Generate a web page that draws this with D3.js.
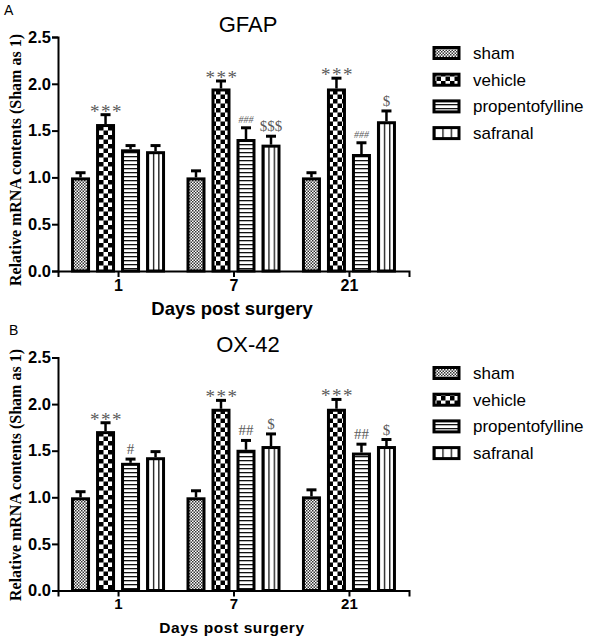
<!DOCTYPE html>
<html><head><meta charset="utf-8">
<script src="https://cdn.jsdelivr.net/npm/d3@7"></script>
<style>body{margin:0;background:#fff}svg{display:block}</style>
</head><body>
<svg id="chart" width="600" height="641"></svg>
<script>
const groups = ["1", "7", "21"];
const series = ["sham", "vehicle", "propentofylline", "safranal"];
const yTicks = [0, 0.5, 1.0, 1.5, 2.0, 2.5];

// Panel A: GFAP  (rows: groups, cols: series)
const gfapMean = [[1.00, 1.57, 1.30, 1.28], [1.00, 1.95, 1.41, 1.35], [1.00, 1.95, 1.25, 1.60]];
const gfapErr  = [[0.05, 0.10, 0.04, 0.06], [0.07, 0.08, 0.12, 0.09], [0.05, 0.11, 0.12, 0.11]];
const gfapMarks = [["", "***", "", ""], ["", "***", "###", "$$$"], ["", "***", "###", "$"]];

// Panel B: OX-42
const oxMean = [[1.00, 1.71, 1.37, 1.43], [1.00, 1.95, 1.51, 1.55], [1.01, 1.95, 1.48, 1.55]];
const oxErr  = [[0.06, 0.09, 0.04, 0.06], [0.07, 0.09, 0.10, 0.13], [0.07, 0.10, 0.09, 0.07]];
const oxMarks = [["", "***", "#", ""], ["", "***", "##", "$"], ["", "***", "##", "$"]];

const svg = d3.select("#chart");
const defs = svg.append("defs");

const p1 = defs.append("pattern").attr("id","pSham").attr("patternUnits","userSpaceOnUse").attr("width",3).attr("height",3);
p1.append("rect").attr("width",3).attr("height",3).attr("fill","#fff");
p1.append("rect").attr("width",1.5).attr("height",1.5).attr("fill","#333");
p1.append("rect").attr("x",1.5).attr("y",1.5).attr("width",1.5).attr("height",1.5).attr("fill","#333");
const p2 = defs.append("pattern").attr("id","pVeh").attr("patternUnits","userSpaceOnUse").attr("width",9).attr("height",9);
p2.append("rect").attr("width",9).attr("height",9).attr("fill","#fff");
p2.append("rect").attr("width",4.5).attr("height",4.5).attr("fill","#000");
p2.append("rect").attr("x",4.5).attr("y",4.5).attr("width",4.5).attr("height",4.5).attr("fill","#000");
const p3 = defs.append("pattern").attr("id","pProp").attr("patternUnits","userSpaceOnUse").attr("width",4).attr("height",4);
p3.append("rect").attr("width",4).attr("height",4).attr("fill","#fff");
p3.append("rect").attr("y",0).attr("width",4).attr("height",1.3).attr("fill","#111");
const p4 = defs.append("pattern").attr("id","pSaf").attr("patternUnits","objectBoundingBox").attr("width",1/3).attr("height",1);
p4.append("rect").attr("width",100).attr("height",400).attr("fill","#fff");
p4.append("rect").attr("x",0).attr("width",1.3).attr("height",400).attr("fill","#111");
const fills = ["url(#pSham)","url(#pVeh)","url(#pProp)","url(#pSaf)"];

function panel(cfg) {
  const g = svg.append("g");
  const y = d3.scaleLinear().domain([0, 2.5]).range([cfg.y0, cfg.y1]);
  const x = d3.scalePoint().domain(groups).range([58, 409]).padding(0.52);
  const xs = d3.scaleBand().domain(series).range([-50, 50]).paddingInner(0.24).paddingOuter(0.12);
  const sw = 3;

  groups.forEach((gr, gi) => {
    series.forEach((s, si) => {
      const v = cfg.mean[gi][si], e = cfg.err[gi][si];
      const bx = x(gr) + xs(s);
      const cx = bx + xs.bandwidth() / 2;
      g.append("line").attr("x1",cx).attr("x2",cx).attr("y1",y(v)).attr("y2",y(v+e))
        .attr("stroke","#000").attr("stroke-width",2.5);
      g.append("line").attr("x1",cx-5).attr("x2",cx+5).attr("y1",y(v+e)).attr("y2",y(v+e))
        .attr("stroke","#000").attr("stroke-width",3);
      g.append("rect").attr("x",bx+sw/2).attr("y",y(v)+sw/2)
        .attr("width",xs.bandwidth()-sw).attr("height",y(0)-y(v)-sw/2)
        .attr("fill",fills[si]).attr("stroke","#000").attr("stroke-width",sw);
      const m = cfg.marks[gi][si];
      if (m) {
        const small = m[0] === "#" && cfg.smallHash;
        const star = m[0] === "*";
        g.append("text").attr("x",cx + (star ? 1 : 0)).attr("y",y(v+e) - (star ? -3 : 5))
          .attr("text-anchor","middle").attr("fill","#5a5a5a")
          .attr("font-family","'Liberation Serif','Times New Roman',serif")
          .attr("font-size", small ? 10 : (star ? 19 : 15))
          .attr("letter-spacing", star ? 1.5 : 0)
          .attr("font-style", small ? "italic" : "normal")
          .text(m);
      }
    });
  });

  const ya = g.append("g").attr("transform","translate(58,0)")
    .call(d3.axisLeft(y).tickValues(yTicks).tickFormat(d3.format(".1f")).tickSizeOuter(0).tickSize(6).tickPadding(1));
  ya.select(".domain").attr("stroke","#000").attr("stroke-width",2);
  ya.selectAll(".tick line").attr("stroke","#000").attr("stroke-width",2);
  ya.selectAll(".tick text").attr("font-family","Arial,'Liberation Sans',sans-serif")
    .attr("font-weight","bold").attr("font-size",16.5).attr("fill","#000");

  const xa = g.append("g").attr("transform",`translate(0,${cfg.y0})`)
    .call(d3.axisBottom(x).tickSizeOuter(0).tickSize(6).tickPadding(cfg.xPad));
  xa.select(".domain").attr("stroke","#000").attr("stroke-width",2);
  xa.selectAll(".tick line").attr("stroke","#000").attr("stroke-width",2);
  xa.selectAll(".tick text").attr("font-family","Arial,'Liberation Sans',sans-serif")
    .attr("font-weight","bold").attr("font-size",cfg.xFont).attr("fill","#000");

  g.append("text").attr("x",232).attr("y",cfg.xLabY).attr("text-anchor","middle")
    .attr("font-family","Arial,'Liberation Sans',sans-serif").attr("font-weight","bold")
    .attr("font-size",cfg.xLabFont).attr("letter-spacing",cfg.xLabSpacing).text("Days post surgery");
  g.append("text").attr("transform",`translate(21,${cfg.yLabC}) rotate(-90)`).attr("text-anchor","middle")
    .attr("font-family","'Liberation Serif','Times New Roman',serif").attr("font-weight","bold")
    .attr("font-size",16).text("Relative mRNA contents (Sham as 1)");
  g.append("text").attr("x",248).attr("y",cfg.titleY).attr("text-anchor","middle")
    .attr("font-family","Arial,'Liberation Sans',sans-serif").attr("font-size",22).text(cfg.title);
  g.append("text").attr("x",cfg.letterX).attr("y",cfg.letterY)
    .attr("font-family","Arial,'Liberation Sans',sans-serif").attr("font-size",14).text(cfg.letter);

  const lg = g.append("g");
  series.forEach((s, i) => {
    const ly = cfg.legY + i * 26.7;
    lg.append("rect").attr("x",434).attr("y",ly-5.5).attr("width",25).attr("height",11)
      .attr("fill",fills[i]).attr("stroke","#000").attr("stroke-width",3);
    lg.append("text").attr("x",473).attr("y",ly+6).attr("font-family","Arial,'Liberation Sans',sans-serif")
      .attr("font-size",17).text(s);
  });
}

panel({y0:271, y1:37, mean:gfapMean, err:gfapErr, marks:gfapMarks, smallHash:true,
  xPad:3, xFont:16, xLabY:315, xLabFont:18.5, xLabSpacing:0, yLabC:160, title:"GFAP", titleY:32,
  letter:"A", letterX:4, letterY:15, legY:53});
panel({y0:590.5, y1:357.5, mean:oxMean, err:oxErr, marks:oxMarks, smallHash:false,
  xPad:2, xFont:15, xLabY:633, xLabFont:15.5, xLabSpacing:0.6, yLabC:475, title:"OX-42", titleY:352,
  letter:"B", letterX:9, letterY:335, legY:373});
</script>
</body></html>
